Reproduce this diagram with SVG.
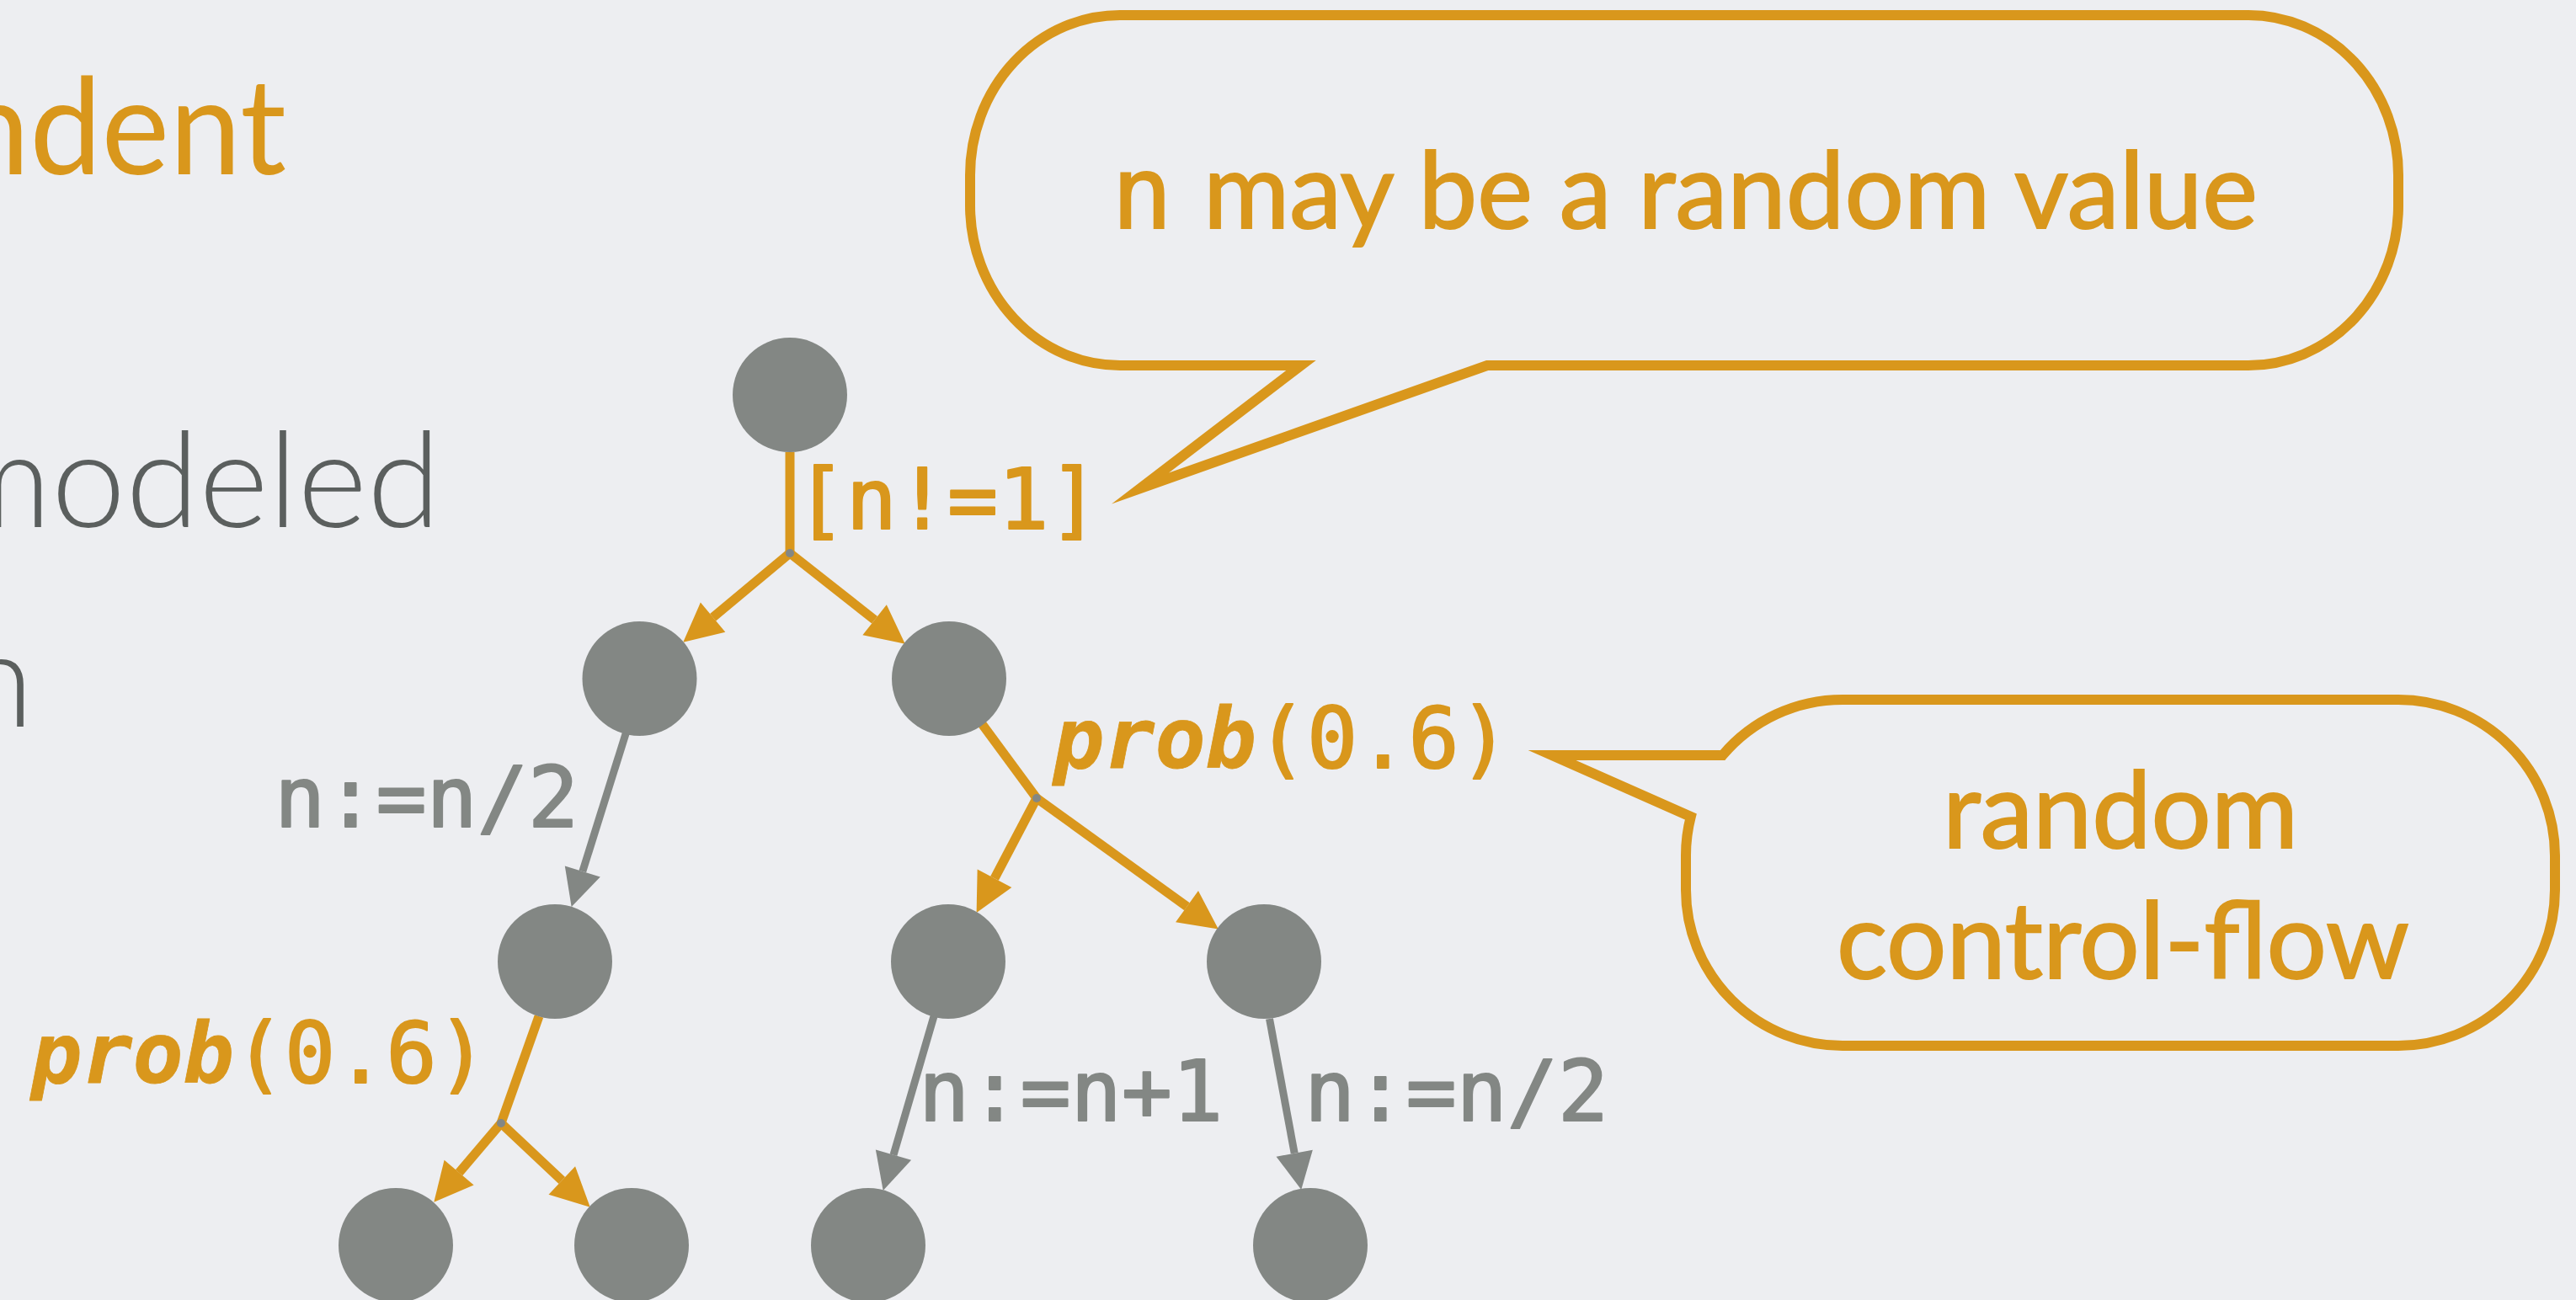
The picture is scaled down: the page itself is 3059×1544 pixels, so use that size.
<svg xmlns="http://www.w3.org/2000/svg" width="3059" height="1544" viewBox="0 0 3059 1544">
<style>
.node{fill:#838784}
.dot{fill:#838784}
.eo{stroke:#D9971C;stroke-width:11;fill:none}
.eg{stroke:#838784;stroke-width:9;fill:none}
.mono{font-family:"DejaVu Sans Mono","Liberation Mono",monospace;font-size:100px;stroke-width:2.2px;stroke-linejoin:round}
.sans{font-family:"Lato","Liberation Sans",sans-serif}
.or{fill:#D9971C;stroke:#D9971C}
.gr{fill:#838784;stroke:#838784}
.bt{stroke-width:2px}
.bubble{fill:none;stroke:#D9971C;stroke-width:12;stroke-linejoin:miter;stroke-miterlimit:8}
</style>
<defs>
<marker id="ao" markerUnits="userSpaceOnUse" markerWidth="50" markerHeight="50" refX="0" refY="0" orient="auto" overflow="visible">
<path d="M0,-23 L46,0 L0,23 Z" fill="#D9971C"/>
</marker>
<marker id="ag" markerUnits="userSpaceOnUse" markerWidth="50" markerHeight="50" refX="0" refY="0" orient="auto" overflow="visible">
<path d="M0,-22 L44,0 L0,22 Z" fill="#838784"/>
</marker>
</defs>
<rect x="0" y="0" width="3059" height="1544" fill="#EDEEF1"/>

<g id="left-text">
<text class="sans" x="340" y="207" font-size="160" text-anchor="end" textLength="390" lengthAdjust="spacingAndGlyphs" fill="#D9971C">ndent</text>
<text class="sans" x="523" y="626" font-size="158" font-weight="300" fill="#5B5F5E" text-anchor="end">modeled</text>
<text class="sans" x="40" y="863" font-size="158" font-weight="300" fill="#5B5F5E" text-anchor="end">n</text>
</g>

<g id="connectors">
<line class="eo" x1="938" y1="537" x2="938" y2="657"/>
<line class="eo" x1="938" y1="657" x2="846.6" y2="733.2" marker-end="url(#ao)"/>
<line class="eo" x1="938" y1="657" x2="1038.6" y2="736.2" marker-end="url(#ao)"/>
<line class="eg" x1="743.5" y1="870" x2="691.8" y2="1035" marker-end="url(#ag)"/>
<line class="eo" x1="640" y1="1207" x2="595" y2="1334"/>
<line class="eo" x1="595" y1="1334" x2="545.1" y2="1392.7" marker-end="url(#ao)"/>
<line class="eo" x1="595" y1="1334" x2="667.3" y2="1402.1" marker-end="url(#ao)"/>
<line class="eo" x1="1165.5" y1="859" x2="1231" y2="948"/>
<line class="eo" x1="1231" y1="948" x2="1181" y2="1043.2" marker-end="url(#ao)"/>
<line class="eo" x1="1231" y1="948" x2="1409.5" y2="1076.7" marker-end="url(#ao)"/>
<line class="eg" x1="1109" y1="1207" x2="1061" y2="1371.7" marker-end="url(#ag)"/>
<line class="eg" x1="1507.5" y1="1210" x2="1537.2" y2="1369.7" marker-end="url(#ag)"/>
<circle class="dot" cx="938" cy="657" r="5"/>
<circle class="dot" cx="595" cy="1334" r="5"/>
<circle class="dot" cx="1231" cy="948" r="5"/>
</g>

<g id="edge-labels">
<text class="mono or" x="944.5" y="628">[n!=1]</text>
<text class="mono gr" x="326" y="982">n:=n/2</text>
<text class="mono or" x="1251" y="912"><tspan font-style="italic" font-weight="bold" stroke-width="0.8">prob</tspan>(0.6)</text>
<text class="mono or" x="37" y="1286"><tspan font-style="italic" font-weight="bold" stroke-width="0.8">prob</tspan>(0.6)</text>
<text class="mono gr" x="1091" y="1331">n:=n+1</text>
<text class="mono gr" x="1549" y="1331">n:=n/2</text>
</g>

<g id="n0"><circle class="node" cx="938" cy="469" r="68"/></g>
<g id="n1"><circle class="node" cx="759.5" cy="806" r="68"/></g>
<g id="n2"><circle class="node" cx="1127" cy="806" r="68"/></g>
<g id="n3"><circle class="node" cx="659" cy="1142" r="68"/></g>
<g id="n4"><circle class="node" cx="1126" cy="1142" r="68"/></g>
<g id="n5"><circle class="node" cx="1501" cy="1142" r="68"/></g>
<g id="n6"><circle class="node" cx="470" cy="1479" r="68"/></g>
<g id="n7"><circle class="node" cx="750" cy="1479" r="68"/></g>
<g id="n8"><circle class="node" cx="1031" cy="1479" r="68"/></g>
<g id="n9"><circle class="node" cx="1556" cy="1479" r="68"/></g>

<g id="bubble-random-value">
<path class="bubble" d="M1330,18 H2670 A178 190 0 0 1 2848 208 V244 A178 190 0 0 1 2670 434 H1766 L1354 580 L1545 434 H1330 A178 190 0 0 1 1152 244 V208 A178 190 0 0 1 1330 18 Z"/>
<text class="or bt" y="271" font-size="120"><tspan x="1320" font-family="DejaVu Sans Mono, monospace">n</tspan><tspan x="1429" font-family="Lato, Liberation Sans, sans-serif" font-size="126" textLength="1252" lengthAdjust="spacingAndGlyphs">may be a random value</tspan></text>
</g>

<g id="bubble-control-flow">
<path class="bubble" d="M2188,831 H2848 A186 185 0 0 1 3034 1016 V1057 A186 185 0 0 1 2848 1242 H2188 A186 185 0 0 1 2002 1057 V1016 A186 185 0 0 1 2007.8 970 L1843 897 L2045.6 897 A186 185 0 0 1 2188 831 Z"/>
<text class="sans or bt" x="2518" y="1007" font-size="126" text-anchor="middle" textLength="422" lengthAdjust="spacingAndGlyphs">random</text>
<text class="sans or bt" x="2521" y="1162" font-size="126" text-anchor="middle" textLength="680" lengthAdjust="spacingAndGlyphs">control-flow</text>
</g>
</svg>
